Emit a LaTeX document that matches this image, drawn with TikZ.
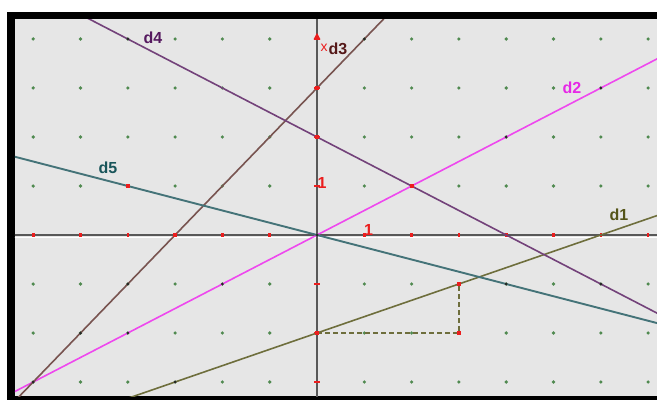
\documentclass[tikz,border=0pt]{standalone}
\usepackage{fontspec}
\setmainfont{Liberation Sans}
\definecolor{bg}{RGB}{230,230,230}
\definecolor{axisc}{RGB}{88,88,88}
\definecolor{dotg}{RGB}{80,138,80}
\definecolor{cd1}{RGB}{110,110,60}
\definecolor{cd2}{RGB}{238,72,238}
\definecolor{cd3}{RGB}{120,84,80}
\definecolor{cd4}{RGB}{115,66,122}
\definecolor{cd5}{RGB}{68,115,120}
\definecolor{td1}{RGB}{85,85,25}
\definecolor{td2}{RGB}{230,40,230}
\definecolor{td3}{RGB}{85,25,25}
\definecolor{td4}{RGB}{85,25,95}
\definecolor{td5}{RGB}{25,85,90}
\definecolor{redp}{RGB}{235,30,30}
\tikzset{
  lab/.style={font=\fontsize{16}{18}\selectfont\bfseries, inner sep=0pt},
  one/.style={font=\fontsize{16}{18}\selectfont\bfseries, inner sep=0pt, text=redp},
  dline/.style={line width=1.6pt},
  slopedash/.style={cd1, line width=1.4pt, dash pattern=on 5pt off 3pt},
}
\newcommand{\rpt}[1]{\fill[redp] (#1) ++(-2pt,-2pt) rectangle ++(4pt,4pt);}
\newcommand{\bpt}[1]{\fill[black!85] (#1) circle (1.5pt);}
\begin{document}
\begin{tikzpicture}
\useasboundingbox (0,0) rectangle (657pt,400pt);
\fill[white] (0,0) rectangle (657pt,400pt);
\fill[black] (7pt,0) rectangle (657pt,388pt);
\fill[bg] (15pt,4pt) rectangle (657pt,381pt);
\begin{scope}[shift={(317pt,165pt)}, x=47.3pt, y=49pt]
  \clip (-6.385,-3.286) rectangle (7.19,4.408);
  % grid dots
  \foreach \i in {-6,...,7}{
    \foreach \j in {-3,...,4}{
      \ifnum\i=0\else\ifnum\j=0\else
        \fill[dotg] (\i,\j) circle (1.8pt);
      \fi\fi
    }
  }
  % axes
  \draw[white, line width=1pt] (-7,-0.045) -- (8,-0.045);
  \coordinate (xa) at (-7,0); \coordinate (xb) at (8,0);
  \coordinate (ya) at (0,-4); \coordinate (yb) at (0,5);
  \draw[axisc, line width=2pt] (xa) -- (xb);
  \draw[axisc, line width=2pt] (ya) -- (yb);
  % ticks
  \foreach \i in {-6,...,7}{\ifnum\i=0\else \fill[redp] (\i,0) ++(-1.3pt,-2.2pt) rectangle ++(2.6pt,4.4pt);\fi}
  \foreach \j in {-3,...,4}{\ifnum\j=0\else \fill[redp] (0,\j) ++(-2.7pt,-1.2pt) rectangle ++(5.4pt,2.4pt);\fi}
  % arrow on y axis
  \coordinate (ytip) at (0,4.125);
  \fill[redp] (ytip) -- ++(-3.5pt,-6.5pt) -- ++(7pt,0pt) -- cycle;
  % lines
  \coordinate (d1a) at (-7,{-7/3-2}); \coordinate (d1b) at (8,{8/3-2});
  \coordinate (d2a) at (-7,-3.5);     \coordinate (d2b) at (8,4);
  \coordinate (d3a) at (-7,-4);       \coordinate (d3b) at (2,5);
  \coordinate (d4a) at (-6,5);        \coordinate (d4b) at (8,-2);
  \coordinate (d5a) at (-7,1.75);     \coordinate (d5b) at (8,-2);
  % slope triangle
  \coordinate (s0) at (0,-2); \coordinate (s1) at (3,-2); \coordinate (s2) at (3,-1);
  \draw[slopedash] (s0) -- (s1) -- (s2);
  \draw[dline, cd1] (d1a) -- (d1b);
  \draw[dline, cd2] (d2a) -- (d2b);
  \draw[dline, cd3] (d3a) -- (d3b);
  \draw[dline, cd4] (d4a) -- (d4b);
  \draw[line width=1.9pt, cd5] (d5a) -- (d5b);
  % black lattice points on lines
  \bpt{-4,4} \bpt{1,4} \bpt{6,3} \bpt{-4,-1} \bpt{-5,-2} \bpt{-2,-1}
  \bpt{-4,-2} \bpt{-3,-3} \bpt{4,-1} \bpt{6,-1} \bpt{-6,-3} \bpt{0,0}
  \bpt{4,2}
  % red points
  \rpt{0,3} \rpt{0,2} \rpt{-3,0} \rpt{2,1} \rpt{3,-1} \rpt{0,-2} \rpt{3,-2} \rpt{-4,1}
\end{scope}
% labels
\node[font=\fontsize{14}{16}\selectfont, text=redp, inner sep=0pt] (xl) at (324pt,352pt) {x};
\node[lab, text=td4] (l4) at (153pt,362.5pt) {d4};
\node[lab, text=td3] (l3) at (338pt,351.5pt) {d3};
\node[lab, text=td2] (l2) at (572pt,312.5pt) {d2};
\node[lab, text=td5] (l5) at (108pt,232pt) {d5};
\node[lab, text=td1] (l1) at (619pt,185.5pt) {d1};
\node[one] (o1) at (368.5pt,170pt) {1};
\node[one] (o2) at (322pt,217pt) {1};
\end{tikzpicture}
\end{document}
